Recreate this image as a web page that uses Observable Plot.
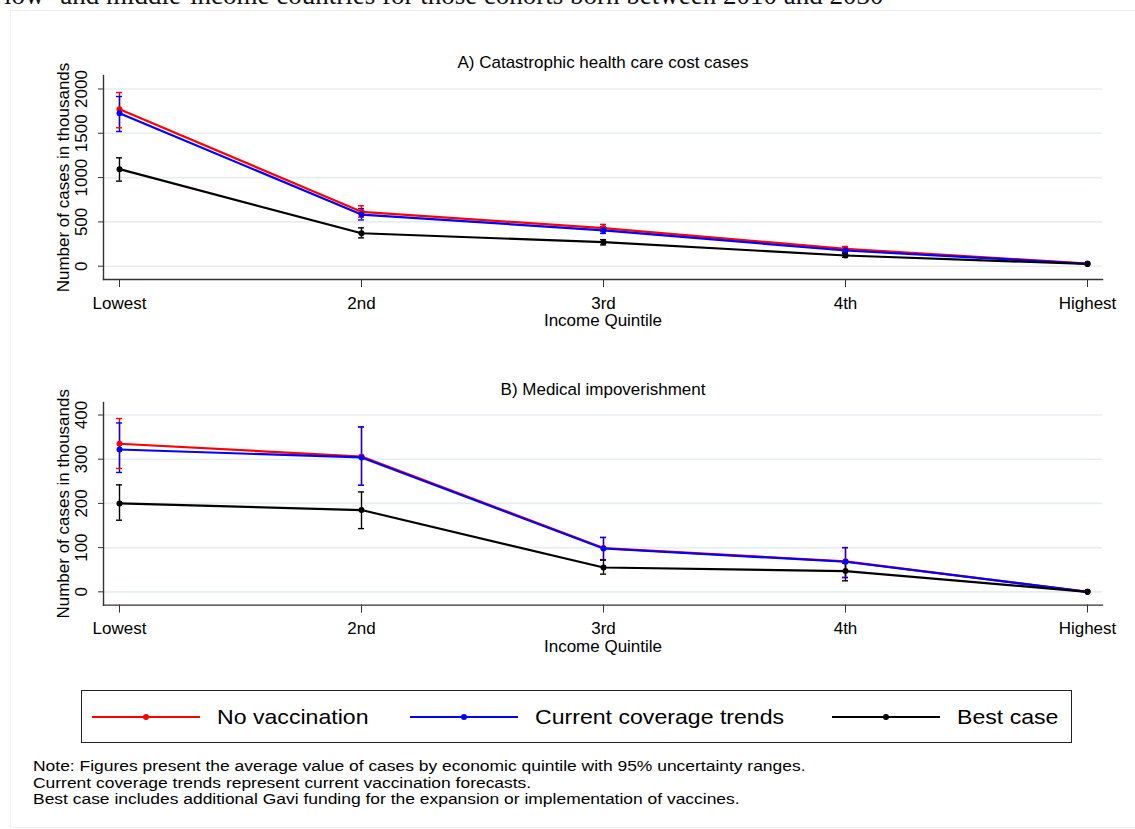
<!DOCTYPE html>
<html>
<head>
<meta charset="utf-8">
<script src="https://cdn.jsdelivr.net/npm/d3@7"></script>
<script src="https://cdn.jsdelivr.net/npm/@observablehq/plot@0.6"></script>
<style>
  html, body { margin: 0; padding: 0; background: #fff; }
  #page { position: relative; width: 1135px; height: 829px; overflow: hidden; background: #fff; font-family: "Liberation Sans", Arial, sans-serif; color: #000; }
  #toptext { position: absolute; left: 4px; top: -20px; font-family: "Liberation Serif", "Times New Roman", serif; font-size: 27px; white-space: nowrap; color: #111; }
  #region { position: absolute; left: 10px; top: 10px; width: 1140px; height: 818px; border: 1px solid #eeeeee; box-sizing: border-box; }
  .panel { position: absolute; left: 0; }
  #legend { position: absolute; left: 81px; top: 690px; width: 991px; height: 53px; border: 1.5px solid #222; box-sizing: border-box; background: #fff; }
  .entry { position: absolute; top: 0; height: 51px; display: flex; align-items: center; font-size: 21px; white-space: nowrap; }
  .entry svg { margin-right: 17px; flex: none; }
  .entry span { display: inline-block; transform: scaleX(1.1); transform-origin: left center; }
  #note { position: absolute; left: 33px; top: 758px; font-size: 15.5px; line-height: 16.5px; transform: scaleX(1.125); transform-origin: left top; white-space: nowrap; }
</style>
</head>
<body>
<div id="page">
  <div id="region"></div>
  <div id="toptext">low- and middle-income countries for those cohorts born between 2010 and 2030</div>
  <div id="panelA" class="panel" style="top:45px"></div>
  <div id="panelB" class="panel" style="top:371px"></div>
  <div id="legend"></div>
  <div id="note">Note: Figures present the average value of cases by economic quintile with 95% uncertainty ranges.<br>Current coverage trends represent current vaccination forecasts.<br>Best case includes additional Gavi funding for the expansion or implementation of vaccines.</div>
</div>
<script>
// ---- Data ----
const quintiles = ["Lowest", "2nd", "3rd", "4th", "Highest"];
const seriesNames = ["No vaccination", "Current coverage trends", "Best case"];
const seriesColors = ["#ff0000", "#0000ff", "#000000"];

// Panel A: Catastrophic health care cost cases (thousands)
const catNoVacc     = [1772, 614, 430, 196, 30];
const catNoVaccLo   = [1562, 553, 392, 172, 24];
const catNoVaccHi   = [1960, 682, 472, 222, 36];
const catCurrent    = [1727, 583, 405, 177, 28];
const catCurrentLo  = [1520, 522, 370, 155, 22];
const catCurrentHi  = [1915, 650, 445, 202, 34];
const catBest       = [1095, 372, 271, 121, 25];
const catBestLo     = [960, 320, 240, 100, 20];
const catBestHi     = [1223, 433, 300, 142, 30];
const catTicks = [0, 500, 1000, 1500, 2000];

// Panel B: Medical impoverishment (thousands)
const impNoVacc     = [335, 306, 99, 69, 0];
const impNoVaccLo   = [279, 241, 73, 33, 0];
const impNoVaccHi   = [392, 373, 123, 100, 0];
const impCurrent    = [322, 304, 98, 68, 0];
const impCurrentLo  = [270, 241, 72, 32, 0];
const impCurrentHi  = [382, 373, 123, 100, 0];
const impBest       = [200, 185, 55, 47, 0];
const impBestLo     = [162, 143, 40, 25, 0];
const impBestHi     = [242, 226, 72, 65, 0];
const impTicks = [0, 100, 200, 300, 400];

function rowsFrom(vals, los, his) {
  const out = [];
  seriesNames.forEach((s, si) => {
    quintiles.forEach((q, qi) => {
      out.push({series: s, quintile: q, value: vals[si][qi], lo: los[si][qi], hi: his[si][qi]});
    });
  });
  return out;
}

const rowsA = rowsFrom([catNoVacc, catCurrent, catBest], [catNoVaccLo, catCurrentLo, catBestLo], [catNoVaccHi, catCurrentHi, catBestHi]);
const rowsB = rowsFrom([impNoVacc, impCurrent, impBest], [impNoVaccLo, impCurrentLo, impBestLo], [impNoVaccHi, impCurrentHi, impBestHi]);

function panel(rows, yDomain, ticks, title, marginTop, frameH) {
  const H = marginTop + frameH + 60;
  return Plot.plot({
    width: 1135,
    height: H,
    marginLeft: 103,
    marginRight: 33,
    marginTop: marginTop,
    marginBottom: 60,
    style: {fontFamily: "'Liberation Sans', Arial, sans-serif", fontSize: "17px", color: "#000", background: "transparent", overflow: "visible"},
    x: {type: "point", domain: quintiles, padding: 0.0577, label: null},
    y: {domain: yDomain, label: null},
    color: {domain: seriesNames, range: seriesColors},
    marks: [
      Plot.gridY(ticks, {stroke: "#e6eef2", strokeOpacity: 1, strokeWidth: 1.6}),
      Plot.axisY(ticks, {tickRotate: -90, tickSize: 5, tickPadding: 12, tickFormat: d3.format("d"), label: null, fontSize: 17, stroke: "#333"}),
      Plot.axisX({tickSize: 8, tickPadding: 9, label: null, fontSize: 17, stroke: "#333"}),
      Plot.frame({anchor: "left", stroke: "#333", strokeWidth: 1.4}),
      Plot.frame({anchor: "bottom", stroke: "#333", strokeWidth: 1.4}),
      Plot.ruleX(rows, {x: "quintile", y1: "lo", y2: "hi", stroke: "series", strokeWidth: 1.4}),
      Plot.ruleY(rows, {x1: "quintile", x2: "quintile", y: "lo", stroke: "series", strokeWidth: 1.4, insetLeft: -3, insetRight: -3}),
      Plot.ruleY(rows, {x1: "quintile", x2: "quintile", y: "hi", stroke: "series", strokeWidth: 1.4, insetLeft: -3, insetRight: -3}),
      Plot.line(rows, {x: "quintile", y: "value", z: "series", stroke: "series", strokeWidth: 2.2}),
      Plot.dot(rows, {x: "quintile", y: "value", fill: "series", r: 3}),
      Plot.text([title], {text: d => d, frameAnchor: "top", lineAnchor: "middle", dy: -13, fontSize: 17}),
      Plot.text(["Income Quintile"], {text: d => d, frameAnchor: "bottom", lineAnchor: "middle", dy: 41, fontSize: 17}),
      Plot.text(["Number of cases in thousands"], {text: d => d, frameAnchor: "left", textAnchor: "middle", lineAnchor: "middle", dx: -40, rotate: -90, fontSize: 17})
    ]
  });
}

document.getElementById("panelA").append(panel(rowsA, [-150, 2152], catTicks, "A) Catastrophic health care cost cases", 30, 204));
document.getElementById("panelB").append(panel(rowsB, [-30, 428.3], impTicks, "B) Medical impoverishment", 31, 202.6));

// Legend
const legend = document.getElementById("legend");
const entryLeft = [10, 328, 750];
seriesNames.forEach((s, i) => {
  const e = document.createElement("div");
  e.className = "entry";
  e.style.left = entryLeft[i] + "px";
  e.innerHTML = `<svg width="108" height="10"><line x1="0" x2="108" y1="5" y2="5" stroke="${seriesColors[i]}" stroke-width="2.2"/><circle cx="54" cy="5" r="3" fill="${seriesColors[i]}"/></svg><span>${s}</span>`;
  legend.append(e);
});
</script>
</body>
</html>
